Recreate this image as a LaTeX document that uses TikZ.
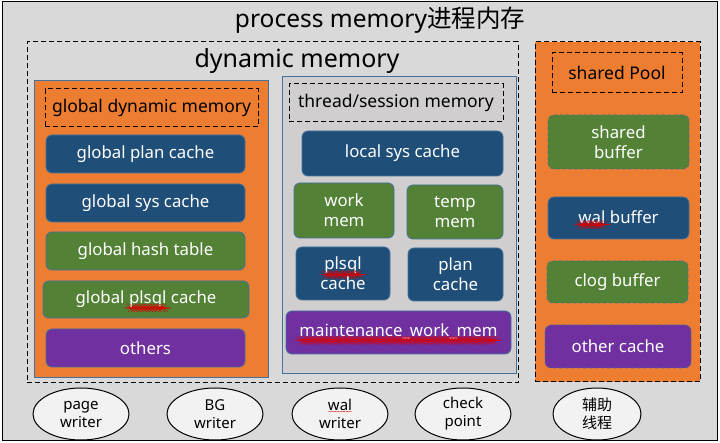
\documentclass[tikz,border=0pt]{standalone}
\usepackage{fontspec}
\setmainfont{Noto Sans}
\newfontfamily\cjk{Noto Sans CJK SC}
\usetikzlibrary{shapes.geometric,decorations.pathmorphing}

\definecolor{bggray}{HTML}{D9D9D9}
\definecolor{areagray}{HTML}{D0CECE}
\definecolor{memorange}{HTML}{ED7D31}
\definecolor{boxblue}{HTML}{1F4E79}
\definecolor{boxgreen}{HTML}{538135}
\definecolor{boxpurple}{HTML}{7030A0}
\definecolor{edgeblue}{HTML}{41719C}
\definecolor{taskfill}{HTML}{F2F2F2}

\newcommand\squig[1]{\tikz[baseline=(sq.base)]{\node[rectangle, draw=none, fill=none, solid, rounded corners=0pt, minimum width=0pt, minimum height=0pt, inner sep=0pt, outer sep=0pt] (sq) {#1}; \draw[red!85!black, solid, line width=0.3pt, decorate, decoration={snake, amplitude=0.45pt, segment length=3pt}] ([yshift=-0.8pt]sq.south west) -- ([yshift=-0.8pt]sq.south east);}}

\begin{document}
\begin{tikzpicture}[x=1pt, y=-1pt,
	box size/.style 2 args={minimum width=#1pt, minimum height=#2pt},
	mem box/.style={rectangle, rounded corners=6pt, draw=edgeblue, line width=0.8pt, text=white, inner sep=0pt, align=center, font=\fontsize{16.8}{20}\selectfont},
	blue box/.style={mem box, fill=boxblue},
	green box/.style={mem box, fill=boxgreen},
	purple box/.style={mem box, fill=boxpurple},
	tag box/.style={rectangle, draw=black, line width=1pt, dash pattern=on 5pt off 3pt, inner sep=0pt, font=\fontsize{17.5}{21}\selectfont},
	area/.style={rectangle, draw=edgeblue, line width=0.8pt, inner sep=0pt},
	task node/.style={ellipse, draw, fill=taskfill, line width=1pt, box size={96}{52}, inner sep=0pt, align=center, font=\fontsize{15}{18}\selectfont}]
	\useasboundingbox[fill=white] (0,0) rectangle (720,443);

	\node[rectangle, draw, fill=bggray, line width=1pt, box size={715}{438}] (process) at (359.5,221) {};
	\node[font=\fontsize{24.5}{28}\selectfont] (title) at (380,20) {process memory{\cjk 进程内存}};

	\node[tag box, box size={491}{341}] (dynamic) at (272.5,212.5) {};
	\node[font=\fontsize{25}{29}\selectfont] (dyntitle) at (297,61) {dynamic memory};

	\node[area, fill=memorange, box size={234}{297}] (global) at (151,228.5) {};
	\node[tag box, box size={213}{38}] (gdm) at (151.5,108) {global dynamic memory};
	\node[blue box, box size={199}{38}] (gplan) at (145.5,154) {global plan cache};
	\node[blue box, box size={199}{38}] (gsys) at (145.5,203) {global sys cache};
	\node[green box, box size={199}{38}] (ghash) at (145.5,251) {global hash table};
	\node[green box, box size={206}{37}] (gplsql) at (146,299.5) {global \squig{plsql} cache};
	\node[purple box, box size={199}{38}] (others) at (145.5,348) {others};

	\node[area, fill=areagray, box size={234}{297}] (thread) at (399,224.5) {};
	\node[tag box, box size={214}{38}] (tsm) at (396,103) {thread/session memory};
	\node[blue box, box size={201}{45}] (lsys) at (402.5,153.5) {local sys cache};
	\node[green box, box size={100}{55}] (workmem) at (344,210.5) {work\\mem};
	\node[green box, box size={96}{54}] (tempmem) at (455,212) {temp\\mem};
	\node[blue box, box size={94}{53}] (plsqlc) at (343,273.5) {\squig{plsql}\\cache};
	\node[blue box, box size={95}{53}] (planc) at (455.5,274.5) {plan\\cache};
	\node[purple box, box size={225}{43}] (mwm) at (398.5,332.5) {\squig{maintenance\_work\_mem}};

	\node[tag box, fill=memorange, box size={165}{340}] (shared) at (617.5,212) {};
	\node[tag box, box size={130}{40}] (spool) at (617,73) {shared Pool};
	\node[green box, dashed, box size={141}{54}] (sbuf) at (618.5,142) {shared\\buffer};
	\node[blue box, box size={141}{42}] (wbuf) at (618.5,218) {\squig{wal} buffer};
	\node[green box, dashed, box size={141}{42}] (cbuf) at (617.5,282) {clog buffer};
	\node[purple box, dashed, box size={146}{43}] (ocache) at (618,346.5) {other cache};

	\node[task node] (pw) at (81,414) {page\\writer};
	\node[task node] (bgw) at (215,414) {BG\\writer};
	\node[task node] (ww) at (340,414) {\squig{wal}\\writer};
	\node[task node] (cp) at (463,414) {check\\point};
	\node[task node, box size={88}{52}, font={\cjk\fontsize{15}{18}\selectfont}] (aux) at (597,414) {辅助\\线程};
\end{tikzpicture}
\end{document}
